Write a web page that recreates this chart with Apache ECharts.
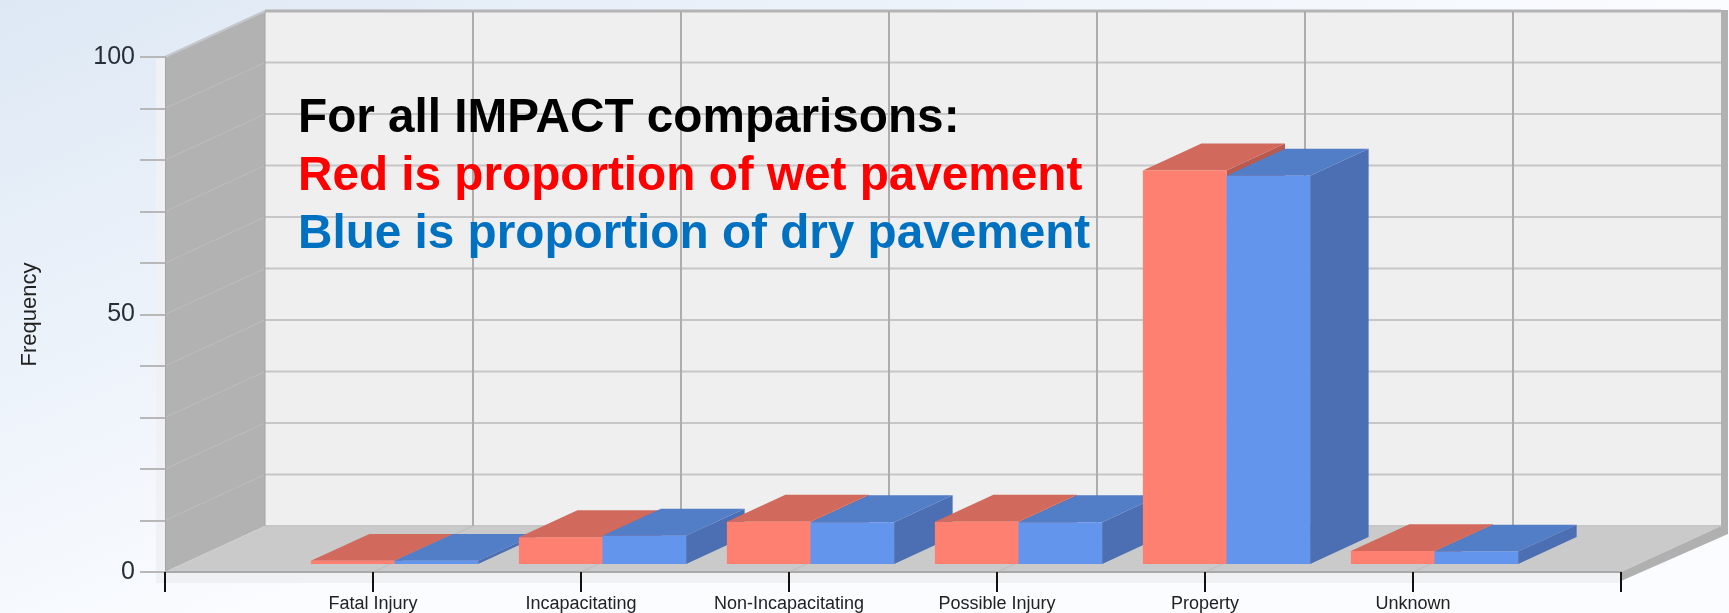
<!DOCTYPE html>
<html>
<head>
<meta charset="utf-8">
<title>Impact comparison</title>
<script src="https://cdn.jsdelivr.net/npm/echarts@6/dist/echarts.min.js"></script>
<style>
html, body { margin: 0; padding: 0; }
#chart { width: 1729px; height: 613px; }
</style>
</head>
<body>
<div id="chart"></div>
<script>
// blank first and last slots give the 8 ticks of the original axis
const categories = ["", "Fatal Injury", "Incapacitating", "Non-Incapacitating", "Possible Injury", "Property", "Unknown", ""];
const wet = [null, 0.6, 5.2, 8.2, 8.2, 76.4, 2.5, null];
const dry = [null, 0.6, 5.5, 8.1, 8.1, 75.4, 2.4, null];
const yTicks = [0, 10, 20, 30, 40, 50, 60, 70, 80, 90, 100];
const yLabels = [0, 50, 100];
const notes = [
    { text: "For all IMPACT comparisons:", color: "#000000", y: 119 },
    { text: "Red is proportion of wet pavement", color: "#ff0000", y: 177 },
    { text: "Blue is proportion of dry pavement", color: "#0070c0", y: 235 },
];

// 3D look: how far the back plane is shifted from the front plane
const DEPTH_X = 100;
const DEPTH_Y = 46;

function poly(points, fill, stroke) {
    return {
        type: "polygon",
        shape: { points: points },
        style: { fill: fill, stroke: stroke || null, lineWidth: stroke ? 1 : 0 },
    };
}

function line(x1, y1, x2, y2, color, width) {
    return {
        type: "line",
        shape: { x1: x1, y1: y1, x2: x2, y2: y2 },
        style: { stroke: color, lineWidth: width },
    };
}

function renderFrame(params, api) {
    const bottomLeft = api.coord([0, 0]);
    const topRight = api.coord([categories.length - 1, 100]);
    const x0 = bottomLeft[0];
    const x1 = topRight[0];
    const y0 = bottomLeft[1];
    const y1 = topRight[1];
    const bx0 = x0 + DEPTH_X;
    const bx1 = x1 + DEPTH_X;
    const by0 = y0 - DEPTH_Y;
    const by1 = y1 - DEPTH_Y;
    const kids = [];

    // pale slab edges along the left and the front
    kids.push(poly([[x0 - 9, y1 + 2], [x0, y1], [x0, y0 + 11], [x0 - 9, y0 + 11]], "#eff1f4"));
    kids.push(poly([[x0, y0], [x1, y0], [x1, y0 + 11], [x0, y0 + 11]], "#f0f1f3"));
    // back wall, left wall, floor, right edge
    kids.push(poly([[bx0, by1], [bx1, by1], [bx1, by0], [bx0, by0]], "#efefef"));
    kids.push(poly([[x0, y1], [bx0, by1], [bx0, by0], [x0, y0]], "#b2b2b2"));
    kids.push(poly([[x0, y0], [bx0, by0], [bx1, by0], [x1, y0]], "#cacaca"));
    kids.push(poly([[x1, y0], [bx1, by0], [bx1, by1 - 1], [bx1 + 7, by1 - 1], [bx1 + 7, by0 + 8], [x1, y0 + 9]], "#b0b0b0"));

    yTicks.forEach(function (v) {
        const y = api.coord([0, v])[1];
        if (v > 0) {
            kids.push(line(x0, y, bx0, y - DEPTH_Y, "#bdbdbd", 1));
        }
        kids.push(line(bx0, y - DEPTH_Y, bx1, y - DEPTH_Y, v === 100 ? "#b4b4b4" : "#c6c6c6", v === 100 ? 3 : 2));
    });
    categories.forEach(function (c, i) {
        const x = api.coord([i, 0])[0];
        if (i > 0 && i < categories.length - 1) {
            kids.push(line(x + DEPTH_X, by1, x + DEPTH_X, by0, "#adadad", 2));
            kids.push(line(x, y0, x + DEPTH_X, by0, "#bcbcbc", 1));
        }
    });
    kids.push(line(bx0, by1, bx0, by0, "#a6a6a6", 1));
    kids.push(line(x0, y1, bx0, by1, "#c4c8cc", 2));
    return { type: "group", children: kids };
}

// bars sit between these two fractions of the floor depth
const BAR_NEAR = 0.175;
const BAR_FAR = 0.76;

function box(api, left, right, value, front, top, side) {
    const baseY = api.coord([0, 0])[1];
    const topY = api.coord([0, value])[1];
    const nx = BAR_NEAR * DEPTH_X;
    const ny = BAR_NEAR * DEPTH_Y;
    const fx = BAR_FAR * DEPTH_X;
    const fy = BAR_FAR * DEPTH_Y;
    return [
        poly([[right + nx, baseY - ny], [right + fx, baseY - fy], [right + fx, topY - fy], [right + nx, topY - ny]], side),
        poly([[left + nx, topY - ny], [left + fx, topY - fy], [right + fx, topY - fy], [right + nx, topY - ny]], top),
        poly([[left + nx, baseY - ny], [right + nx, baseY - ny], [right + nx, topY - ny], [left + nx, topY - ny]], front),
    ];
}

function renderBars(params, api) {
    const i = api.value(0);
    const center = api.coord([i, 0])[0] + 4;
    const w = api.size([1, 0])[0] * 0.402;
    const red = box(api, center - w, center, api.value(1), "#fe8070", "#d16a5d", "#b85a4f");
    const blue = box(api, center, center + w, api.value(2), "#6495ed", "#527dc7", "#4c6eb2");
    return { type: "group", children: red.concat(blue) };
}

const chart = echarts.init(document.getElementById("chart"), null, { renderer: "canvas" });

const barRows = categories.map(function (c, i) {
    return [i, wet[i], dry[i]];
}).filter(function (row) {
    return row[1] !== null;
});

const option = {
    animation: false,
    backgroundColor: {
        type: "linear",
        x: 0, y: 0, x2: 0.15, y2: 1,
        colorStops: [
            { offset: 0, color: "#dde8f4" },
            { offset: 0.5, color: "#ecf2fa" },
            { offset: 1, color: "#fafcff" },
        ],
    },
    grid: { left: 165, right: 108, top: 57, bottom: 40 },
    xAxis: {
        type: "category",
        data: categories,
        boundaryGap: false,
        z: 5,
        axisLine: { show: true, lineStyle: { color: "#a9a9a9", width: 2 } },
        axisTick: { show: true, interval: 0, length: 20, lineStyle: { color: "#111111", width: 2 } },
        axisLabel: { interval: 0, margin: 23, fontFamily: "Liberation Sans", fontSize: 18, color: "#222222" },
    },
    yAxis: {
        type: "value",
        min: 0,
        max: 100,
        interval: 10,
        z: 5,
        name: "Frequency",
        nameLocation: "middle",
        nameGap: 124,
        nameTextStyle: { fontFamily: "Liberation Sans", fontSize: 22, color: "#222222" },
        axisLine: { show: true, lineStyle: { color: "#a6a6a6", width: 1 } },
        axisTick: { show: true, length: 25, lineStyle: { color: "#b8b8b8", width: 2 } },
        axisLabel: {
            margin: 30,
            fontFamily: "Liberation Sans",
            fontSize: 25,
            color: "#27303a",
            formatter: function (v) {
                return yLabels.indexOf(v) >= 0 ? String(v) : "";
            },
        },
        splitLine: { show: false },
    },
    graphic: notes.map(function (n) {
        return {
            type: "text",
            z: 10,
            x: 298,
            y: n.y,
            style: {
                text: n.text,
                fill: n.color,
                font: "bold 47.7px 'Liberation Sans'",
                textVerticalAlign: "middle",
            },
        };
    }),
    series: [
        {
            type: "custom",
            name: "frame",
            z: 2,
            silent: true,
            clip: false,
            renderItem: renderFrame,
            data: [[0, 0]],
        },
        {
            type: "custom",
            name: "bars",
            z: 3,
            silent: true,
            clip: false,
            encode: { x: 0, y: 1 },
            renderItem: renderBars,
            data: barRows,
        },
    ],
};

chart.setOption(option);
</script>
</body>
</html>
